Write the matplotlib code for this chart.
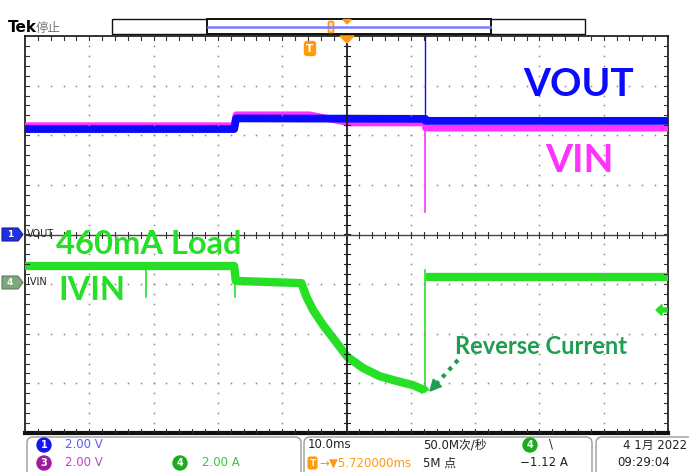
import numpy as np
import matplotlib
matplotlib.use("Agg")
import matplotlib.pyplot as plt
from matplotlib.patches import FancyBboxPatch, Polygon, Rectangle, Circle

W, H = 689, 472

# ---------------- data ----------------
# time axis: ms relative to trigger, 10 ms/div, expansion point at +5.72 ms
time_per_div = 10.0
t_center = 5.72

# CH1 VOUT  (2 V/div, ground at centre line)
ch1_scale, ch1_offset = 2.0, 0.0
vout_band_t = [-44.28, -11.75, -11.45, 18.0, 18.02, 55.72]
vout_band_v = [4.25, 4.25, 4.68, 4.66, 4.58, 4.58]
vout_spike_t = [18.0, 18.0]
vout_spike_v = [4.66, 8.6]

# CH3 VIN  (2 V/div, ground at centre line)
ch3_scale, ch3_offset = 2.0, 0.0
vin_band_t = [-44.28, -11.75, -11.45, 0.0, 6.2, 18.0, 18.02, 55.72]
vin_band_v = [4.38, 4.38, 4.82, 4.82, 4.50, 4.50, 4.29, 4.29]
vin_spike_t = [18.0, 18.0]
vin_spike_v = [4.50, 0.9]

# CH4 IVIN  (2 A/div, ground marker 0.96 div below centre)
ch4_scale, ch4_offset = 2.0, -0.96
ivin_band_t = [-44.28, -11.75, -11.5, -1.29, -0.51, 0.51, 2.07, 3.62, 5.85,
               8.28, 10.87, 13.46, 16.04, 17.86, 18.0]
ivin_band_a = [0.65, 0.65, 0.05, -0.04, -0.59, -1.12, -1.73, -2.25, -3.01,
               -3.46, -3.79, -3.98, -4.15, -4.35, -4.43]
ivin_tail_t = [18.05, 55.72]
ivin_tail_a = [0.21, 0.21]
ivin_spikes = [([-25.5, -25.5], [0.65, -0.60]),
               ([-11.65, -11.65], [0.65, -0.60]),
               ([18.0, 18.0], [-4.43, 0.49])]
trig_level_a = -1.12

BLUE = "#0a0aff"
PINK = "#ff33ff"
GREEN = "#26e026"
DKGREEN = "#1f9d50"
ORANGE = "#ff9a10"


def vdiv(vals, scale, offset):
    return np.asarray(vals) / scale + offset


fig = plt.figure(figsize=(W / 100, H / 100), dpi=100)
fig.patch.set_facecolor("white")

# graticule axes (pixel box 25..668 x 36..433)
gl, gt, gr, gb = 25, 36, 668, 433
ax = fig.add_axes([gl / W, 1 - gb / H, (gr - gl) / W, (gb - gt) / H])
t_left = t_center - 5 * time_per_div
t_right = t_center + 5 * time_per_div
ax.set_xlim(t_left, t_right)
ax.set_ylim(-4, 4)
ax.set_xticks([])
ax.set_yticks([])
for s in ax.spines.values():
    s.set_color("#111")
    s.set_linewidth(1.2)
ax.spines["bottom"].set_linewidth(3)

# grid dots
px_x = (t_right - t_left) / (gr - gl)   # ms per pixel
px_y = 8.0 / (gb - gt)                  # div per pixel
minor_y = np.arange(-4, 4.001, 0.2)
minor_x = t_left + np.arange(0, 10.001, 0.2) * time_per_div
for k in range(1, 10):
    if k == 5:
        continue
    xk = t_left + k * time_per_div
    ax.plot(np.full_like(minor_y[1:-1], xk), minor_y[1:-1], ls="none",
            marker="s", ms=1.1, color="#8a8a8a", mew=0, zorder=5)
for j in range(-3, 4):
    if j == 0:
        continue
    ax.plot(minor_x[1:-1], np.full_like(minor_x[1:-1], j), ls="none",
            marker="s", ms=1.1, color="#8a8a8a", mew=0, zorder=5)

# centre lines with ticks
ax.axvline(t_center, color="#1a1a1a", lw=1.3, zorder=6)
ax.axhline(0, color="#444", lw=1.0, zorder=6)
for y in minor_y[1:-1]:
    ax.plot([t_center - 3 * px_x, t_center + 3 * px_x], [y, y], color="#1a1a1a", lw=0.8, zorder=6)
    ax.plot([t_left, t_left + 4 * px_x], [y, y], color="#333", lw=0.8, zorder=6)
    ax.plot([t_right - 4 * px_x, t_right], [y, y], color="#333", lw=0.8, zorder=6)
for x in minor_x[1:-1]:
    ax.plot([x, x], [-3 * px_y, 3 * px_y], color="#333", lw=0.8, zorder=6)
    ax.plot([x, x], [4, 4 - 4 * px_y], color="#333", lw=0.8, zorder=6)
    ax.plot([x, x], [-4, -4 + 4 * px_y], color="#333", lw=0.8, zorder=6)

# traces
band = dict(solid_capstyle="butt", solid_joinstyle="round")
ax.plot(vin_band_t, vdiv(vin_band_v, ch3_scale, ch3_offset), color=PINK, lw=5.0, zorder=3, **band)
ax.plot(vin_spike_t, vdiv(vin_spike_v, ch3_scale, ch3_offset), color=PINK, lw=1.2, zorder=3)
ax.plot(vout_band_t, vdiv(vout_band_v, ch1_scale, ch1_offset), color=BLUE, lw=5.6, zorder=4, **band)
ax.plot(vout_spike_t, vdiv(vout_spike_v, ch1_scale, ch1_offset), color=BLUE, lw=1.0, zorder=4)
ax.plot(ivin_band_t, vdiv(ivin_band_a, ch4_scale, ch4_offset), color=GREEN, lw=6.0, zorder=3, **band)
ax.plot(ivin_tail_t, vdiv(ivin_tail_a, ch4_scale, ch4_offset), color=GREEN, lw=6.0, zorder=3, **band)
for st, sa in ivin_spikes:
    ax.plot(st, vdiv(sa, ch4_scale, ch4_offset), color=GREEN, lw=1.2, zorder=3)

# ---------------- overlay in pixel coordinates ----------------
ov = fig.add_axes([0, 0, 1, 1])
ov.set_xlim(0, W)
ov.set_ylim(H, 0)
ov.axis("off")
ov.set_zorder(10)
ov.patch.set_alpha(0)

CJK = ["DejaVu Sans", "Noto Sans CJK SC"]

# header
ov.text(8, 28, "Tek", fontsize=11, fontweight="bold", color="black", va="center", ha="left")
ov.text(36, 28, "停止", fontsize=9, color="#777", va="center", ha="left", family=["Noto Sans CJK SC"])
ov.add_patch(Rectangle((112, 19), 473, 15, fill=False, ec="#111", lw=1.0))
ov.add_patch(Rectangle((207, 19), 284, 15, fill=True, fc="white", ec="#111", lw=1.4))
ov.plot([208, 490], [26.5, 26.5], color="#7b7bff", lw=1.8)
ov.add_patch(FancyBboxPatch((328.5, 21.5), 5, 11, boxstyle="round,pad=0,rounding_size=1.5",
                            fc="#ffe0b0", ec=ORANGE, lw=1.3))
ov.add_patch(Polygon([(343, 19.5), (351, 19.5), (347, 24)], closed=True, color=ORANGE))
# expansion point triangle on graticule
ov.add_patch(Polygon([(340, 36), (354, 36), (347, 43)], closed=True, color=ORANGE))
# trigger T badge
ov.add_patch(FancyBboxPatch((304.5, 41.5), 11, 14, boxstyle="round,pad=0,rounding_size=2.5",
                            fc=ORANGE, ec=ORANGE, lw=1))
ov.text(310, 48.5, "T", color="white", fontsize=7.5, fontweight="bold", ha="center", va="center")

# channel markers on left
ov.add_patch(Polygon([(2, 228), (18, 228), (23, 234.5), (18, 241), (2, 241)], closed=True,
                     fc="#2030e0", ec="#1020a0", lw=0.8))
ov.text(10, 234.5, "1", color="white", fontsize=6.5, fontweight="bold", ha="center", va="center")
ov.text(27, 234, "VOUT", color="#222", fontsize=7, ha="left", va="center")
ov.add_patch(Polygon([(2, 276), (18, 276), (23, 282.5), (18, 289), (2, 289)], closed=True,
                     fc="#7fa67f", ec="#5c805c", lw=0.8))
ov.text(10, 282.5, "4", color="white", fontsize=6.5, fontweight="bold", ha="center", va="center")
ov.text(27, 282, "IVIN", color="#222", fontsize=7, ha="left", va="center")

# trigger level marker on right
ov.add_patch(Polygon([(656, 310), (662, 304.5), (662, 308), (667, 308), (667, 312), (662, 312),
                      (662, 315.5)], closed=True, color=GREEN))

# annotations
ov.text(579, 85, "VOUT", color=BLUE, fontsize=28, fontweight="bold", family="Lato",
        ha="center", va="center")
ov.text(579, 160, "VIN", color=PINK, fontsize=28, fontweight="bold", family="Lato",
        ha="center", va="center")
ov.text(56, 244, "460mA Load", color=GREEN, fontsize=23.5, fontweight="bold", family="Lato",
        ha="left", va="center")
ov.text(58, 290, "IVIN", color=GREEN, fontsize=23.5, fontweight="bold", family="Lato",
        ha="left", va="center")
ov.text(455, 347, "Reverse Current", color=DKGREEN, fontsize=17, fontweight="bold", family="Lato",
        ha="left", va="center")
# dotted arrow
p0 = np.array([458.0, 360.0])
p1 = np.array([430.0, 391.0])
d = (p1 - p0) / np.linalg.norm(p1 - p0)
n = np.array([-d[1], d[0]])
base = p1 - d * 11
ov.plot([p0[0], base[0]], [p0[1], base[1]], color=DKGREEN, lw=3, ls=(0, (1, 1.3)),
        solid_capstyle="butt", dash_capstyle="butt")
ov.add_patch(Polygon([p1, base + n * 5.5, base - n * 5.5], closed=True, color=DKGREEN))

# ---------------- bottom status panels ----------------
for (x0, x1) in [(27, 301), (304, 592), (596, 700)]:
    ov.add_patch(FancyBboxPatch((x0, 437), x1 - x0, 45, boxstyle="round,pad=0,rounding_size=6",
                                fc="white", ec="#9a9a9a", lw=1.0, clip_on=False))


def badge(x, y, label, color):
    ov.add_patch(Circle((x, y), 7, color=color))
    ov.text(x, y + 0.5, label, color="white", fontsize=7, fontweight="bold", ha="center", va="center")


fs = 8.5
badge(44, 445, "1", "#1515ee")
ov.text(65, 445, "2.00 V", color="#5a5aff", fontsize=fs, ha="left", va="center")
badge(44, 463, "3", "#a01aa0")
ov.text(65, 463, "2.00 V", color="#c040c8", fontsize=fs, ha="left", va="center")
badge(180, 463, "4", "#1eaa1e")
ov.text(202, 463, "2.00 A", color="#3cc43c", fontsize=fs, ha="left", va="center")

ov.text(308, 445, "10.0ms", color="#222", fontsize=fs, ha="left", va="center")
ov.add_patch(FancyBboxPatch((308, 457), 9, 12, boxstyle="round,pad=0,rounding_size=2",
                            fc=ORANGE, ec=ORANGE, lw=0.8))
ov.text(312.5, 463.5, "T", color="white", fontsize=6.5, fontweight="bold", ha="center", va="center")
ov.text(319, 463, "\u2192\u25bc5.720000ms", color=ORANGE, fontsize=fs, ha="left", va="center")
ov.text(423, 445, "50.0M次/秒", color="#222", fontsize=fs, ha="left", va="center", family=CJK)
ov.text(423, 463, "5M 点", color="#222", fontsize=fs, ha="left", va="center", family=CJK)
badge(530, 445, "4", "#1eaa1e")
ov.text(549, 444, "\\", color="#222", fontsize=fs, ha="left", va="center")
ov.text(520, 463, "\u22121.12 A", color="#222", fontsize=fs, ha="left", va="center")
ov.text(687, 445, "4 1月 2022", color="#222", fontsize=fs, ha="right", va="center", family=CJK)
ov.text(617, 463, "09:29:04", color="#222", fontsize=fs, ha="left", va="center")

fig.savefig("out.png", dpi=100, facecolor="white")
